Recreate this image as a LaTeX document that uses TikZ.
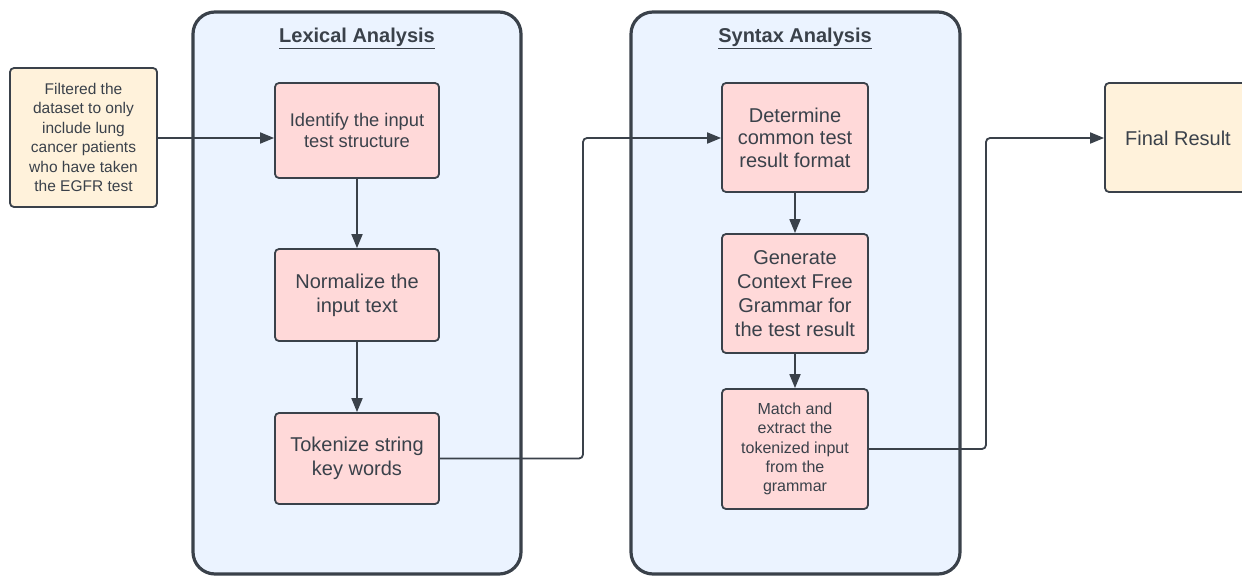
\documentclass[tikz,border=0pt]{standalone}
\usepackage{fontspec}
\setmainfont{Liberation Sans}
\usetikzlibrary{arrows.meta}
\definecolor{ink}{HTML}{3A414A}
\definecolor{lane}{HTML}{EBF3FF}
\definecolor{pinkbox}{HTML}{FFD9D9}
\definecolor{creambox}{HTML}{FFF2DB}
\tikzset{
  lanebox/.style={draw=ink, line width=3.2pt, fill=lane, rounded corners=22pt},
  stepbox/.style={draw=ink, line width=1.8pt, fill=pinkbox, rounded corners=4pt,
    text=ink, align=center, inner sep=0pt},
  termbox/.style={draw=ink, line width=1.8pt, fill=creambox, rounded corners=4pt,
    text=ink, align=center, inner sep=0pt},
  title/.style={text=ink, font=\bfseries\fontsize{20}{24}\selectfont},
  conn/.style={draw=ink, line width=1.8pt, rounded corners=4pt,
    -{Triangle[length=14pt,width=11pt]}},
}
\begin{document}
\begin{tikzpicture}[x=1pt,y=-1pt]
\clip (0,0) rectangle (1242,576);
\useasboundingbox (0,0) rectangle (1242,576);
\fill[white] (0,0) rectangle (1242,576);
% containers
\draw[lanebox] (193,12) rectangle (521,574);
\draw[lanebox] (631,12) rectangle (960,574);
\node[title] (t1) at (357,38) {\underline{Lexical Analysis}};
\node[title] (t2) at (795,38) {\underline{Syntax Analysis}};
% boxes
\node[termbox, minimum width=147pt, minimum height=139pt,
  font=\fontsize{15.5}{19.5}\selectfont] (src) at (83.5,137.5)
  {Filtered the\\dataset to only\\include lung\\cancer patients\\who have taken\\the EGFR test};
\node[stepbox, minimum width=164pt, minimum height=95pt,
  font=\fontsize{18.3}{21.5}\selectfont] (ident) at (357,130.5)
  {Identify the input\\test structure};
\node[stepbox, minimum width=164pt, minimum height=92pt,
  font=\fontsize{20}{24}\selectfont] (norm) at (357,295)
  {Normalize the\\input text};
\node[stepbox, minimum width=164pt, minimum height=91pt,
  font=\fontsize{20}{24}\selectfont] (tok) at (357,458.5)
  {Tokenize string\\key words};
\node[stepbox, minimum width=146pt, minimum height=109pt,
  font=\fontsize{20}{22.5}\selectfont] (det) at (795,137.5)
  {Determine\\common test\\result format};
\node[stepbox, minimum width=146pt, minimum height=119pt,
  font=\fontsize{20}{24}\selectfont] (gen) at (795,293.5)
  {Generate\\Context Free\\Grammar for\\the test result};
\node[stepbox, minimum width=146pt, minimum height=120pt,
  font=\fontsize{16}{19.3}\selectfont] (match) at (795,449)
  {Match and\\extract the\\tokenized input\\from the\\grammar};
\node[termbox, minimum width=150pt, minimum height=109pt] (final) at (1180,137.5) {};
\node[text=ink, font=\fontsize{20}{24}\selectfont, anchor=west, inner sep=0pt] (finaltxt) at (1125,138) {Final Result};
% connectors
\draw[conn] (src.east |- 0,138) -- (ident.west |- 0,138);
\draw[conn] (ident.south) -- (norm.north);
\draw[conn] (norm.south) -- (tok.north);
\draw[conn] (tok.east) -- (583,458.5) -- (583,138) -- (det.west |- 0,138);
\draw[conn] (det.south) -- (gen.north);
\draw[conn] (gen.south) -- (match.north);
\draw[conn] (match.east) -- (986,449) -- (986,138) -- (final.west |- 0,138);
\end{tikzpicture}
\end{document}
